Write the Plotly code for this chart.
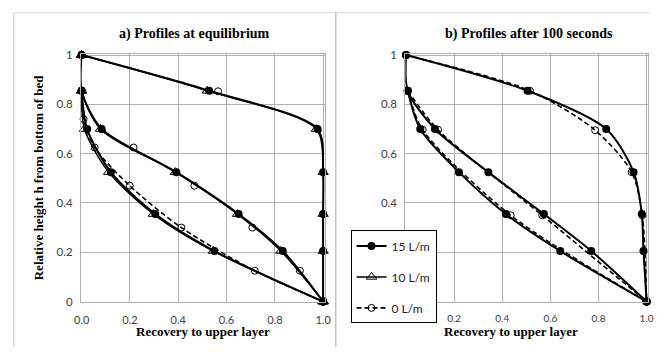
import plotly.graph_objects as go

# Relative heights of the sampling points (bed bottom = 0, top = 1)
heights = [1.0, 0.855, 0.70, 0.525, 0.355, 0.205, 0.0]
heights_lower = [0.855, 0.70, 0.525, 0.355, 0.205, 0.0]
heights_zero = [0.855, 0.74, 0.625, 0.47, 0.30, 0.125, 0.0]
heights_zero_mid = [0.625, 0.47, 0.30, 0.125]

# a) profiles at equilibrium
a15_outer = [0.0, 0.528, 0.977, 1.0, 1.0, 1.0, 1.0]
a15_middle = [0.0, 0.0, 0.083, 0.392, 0.650, 0.833, 1.0]
a15_inner = [0.0, 0.023, 0.121, 0.305, 0.550, 1.0]

a10_outer = [0.0, 0.520, 0.972, 1.0, 1.0, 1.0, 1.0]
a10_middle = [0.0, 0.0, 0.078, 0.388, 0.645, 0.825, 1.0]
a10_inner = [0.0, 0.012, 0.112, 0.297, 0.545, 1.0]

a0_outer_x = [0.565]
a0_outer_y = [0.853]
a0_middle = [0.215, 0.467, 0.707, 0.904]
a0_inner = [0.0, 0.008, 0.054, 0.199, 0.413, 0.717, 1.0]

# b) profiles after 100 seconds
b15_outer = [0.0, 0.505, 0.832, 0.946, 0.980, 0.987, 1.0]
b15_middle = [0.0, 0.007, 0.120, 0.342, 0.573, 0.770, 1.0]
b15_inner = [0.007, 0.059, 0.220, 0.415, 0.641, 1.0]

b0_outer_x = [0.0, 0.515, 0.786, 0.938, 0.982, 1.0]
b0_outer_y = [1.0, 0.855, 0.695, 0.525, 0.35, 0.0]
b0_middle_x = [0.007, 0.133, 0.566, 1.0]
b0_inner_x = [0.007, 0.069, 0.435, 1.0]
b0_lower_y = [0.855, 0.697, 0.35, 0.0]

x_ticks = [0.0, 0.2, 0.4, 0.6, 0.8, 1.0]
x_labels = ["0.0", "0.2", "0.4", "0.6", "0.8", "1.0"]
y_ticks = [0.0, 0.2, 0.4, 0.6, 0.8, 1.0]
y_labels = ["0", "0.2", "0.4", "0.6", "0.8", "1"]
# panel b: the lowest labels sit under the legend box
x2_labels = ["", "0.2", "0.4", "0.6", "0.8", "1.0"]
y2_labels = ["", "", "0.4", "0.6", "0.8", "1"]

SERIES = {
    "15 L/m": dict(rank=1,
                   line=dict(color="black", width=2.0, shape="spline", smoothing=0.8),
                   marker=dict(symbol="circle", size=8, color="black")),
    "10 L/m": dict(rank=2,
                   line=dict(color="black", width=1.5, shape="spline", smoothing=0.8),
                   marker=dict(symbol="triangle-up-open", size=9, color="black",
                               line=dict(width=1))),
    "0 L/m": dict(rank=3,
                  line=dict(color="black", width=1.6, dash="5px,3px", shape="spline",
                            smoothing=0.8),
                  marker=dict(symbol="circle-open", size=7, color="black",
                              line=dict(width=1))),
}

fig = go.Figure()


def add(name, x, y, axes, mode="lines+markers", legend=False):
    style = SERIES[name]
    fig.add_trace(go.Scatter(
        x=x, y=y, mode=mode, name=name, legendgroup=name, showlegend=legend,
        legendrank=style["rank"], line=style["line"], marker=style["marker"],
        cliponaxis=False, xaxis=axes[0], yaxis=axes[1]))


A = ("x", "y")
B = ("x2", "y2")

# 0 L/m drawn first so the other series sit on top
add("0 L/m", a0_outer_x, a0_outer_y, A, mode="markers")
add("0 L/m", a0_middle, heights_zero_mid, A, mode="markers")
add("0 L/m", a0_inner, heights_zero, A, legend=True)
add("0 L/m", b0_outer_x, b0_outer_y, B)
add("0 L/m", b0_middle_x, b0_lower_y, B)
add("0 L/m", b0_inner_x, b0_lower_y, B)

add("10 L/m", a10_outer, heights, A, legend=True)
add("10 L/m", a10_middle, heights, A)
add("10 L/m", a10_inner, heights_lower, A)

add("15 L/m", a15_outer, heights, A, legend=True)
add("15 L/m", a15_middle, heights, A)
add("15 L/m", a15_inner, heights_lower, A)
add("15 L/m", b15_outer, heights, B)
add("15 L/m", b15_middle, heights, B)
add("15 L/m", b15_inner, heights_lower, B)

W, H = 657, 352


def px(v):
    return v / W


def py(v):
    return 1 - v / H


tick_font = dict(family="Lato, Open Sans, sans-serif", size=11.5, color="#404040")
grid = "#b0b0b0"
# invisible outside ticks push the labels away from the plot edge
axis_common = dict(range=[-0.003, 1.006], showgrid=True, gridcolor=grid, gridwidth=1,
                   showline=True, linecolor=grid, linewidth=1, mirror=True,
                   zeroline=False, ticks="outside", tickcolor="rgba(0,0,0,0)",
                   fixedrange=True)

fig.update_layout(
    width=W, height=H, margin=dict(l=0, r=0, t=0, b=0),
    paper_bgcolor="white", plot_bgcolor="white", showlegend=True,
    xaxis=dict(domain=[px(75.5), px(324.5)], anchor="y", tickvals=x_ticks,
               ticktext=x_labels, tickfont=dict(tick_font, size=11), ticklen=7,
               **axis_common),
    yaxis=dict(domain=[py(306), py(50)], anchor="x", tickvals=y_ticks,
               ticktext=y_labels, tickfont=tick_font, ticklen=5, **axis_common),
    xaxis2=dict(domain=[px(407), px(655)], anchor="y2", tickvals=x_ticks,
                ticktext=x2_labels, tickfont=dict(tick_font, size=10), ticklen=7,
                **axis_common),
    yaxis2=dict(domain=[py(306), py(50)], anchor="x2", tickvals=y_ticks,
                ticktext=y2_labels, tickfont=tick_font, ticklen=5, **axis_common),
    legend=dict(x=px(351), y=py(232), xanchor="left", yanchor="top",
                bgcolor="white", bordercolor="black", borderwidth=1,
                font=dict(family="Lato, Open Sans, sans-serif", size=12, color="#222"),
                traceorder="grouped", tracegroupgap=12, itemwidth=30),
)

# panel frames
fig.add_shape(type="line", xref="paper", yref="paper", x0=px(7), x1=1, y0=py(8), y1=py(8),
              line=dict(color="#d9d9d9", width=1))
fig.add_shape(type="line", xref="paper", yref="paper", x0=px(7), x1=px(7), y0=py(8), y1=0,
              line=dict(color="#c8c8c8", width=1))
fig.add_shape(type="line", xref="paper", yref="paper", x0=px(336), x1=px(336), y0=py(8),
              y1=0, line=dict(color="#a8a8a8", width=1))

serif = "Liberation Serif, Times New Roman, serif"
texts = [
    ("<b>a) Profiles at equilibrium</b>", 192, 30, 14, 0),
    ("<b>b) Profiles after 100 seconds</b>", 533, 30, 14, 0),
    ("<b>Recovery to upper layer</b>", 200, 336, 13, 0),
    ("<b>Recovery to upper layer</b>", 515, 336, 13, 0),
    ("<b>Relative height h from bottom of bed</b>", 33, 177, 13, -90),
]
for t, x, y, s, ang in texts:
    fig.add_annotation(text=t, xref="paper", yref="paper", x=px(x), y=py(y),
                       xanchor="center", yanchor="middle", showarrow=False,
                       textangle=ang, font=dict(family=serif, size=s, color="black"))

fig.write_html("out.html")
